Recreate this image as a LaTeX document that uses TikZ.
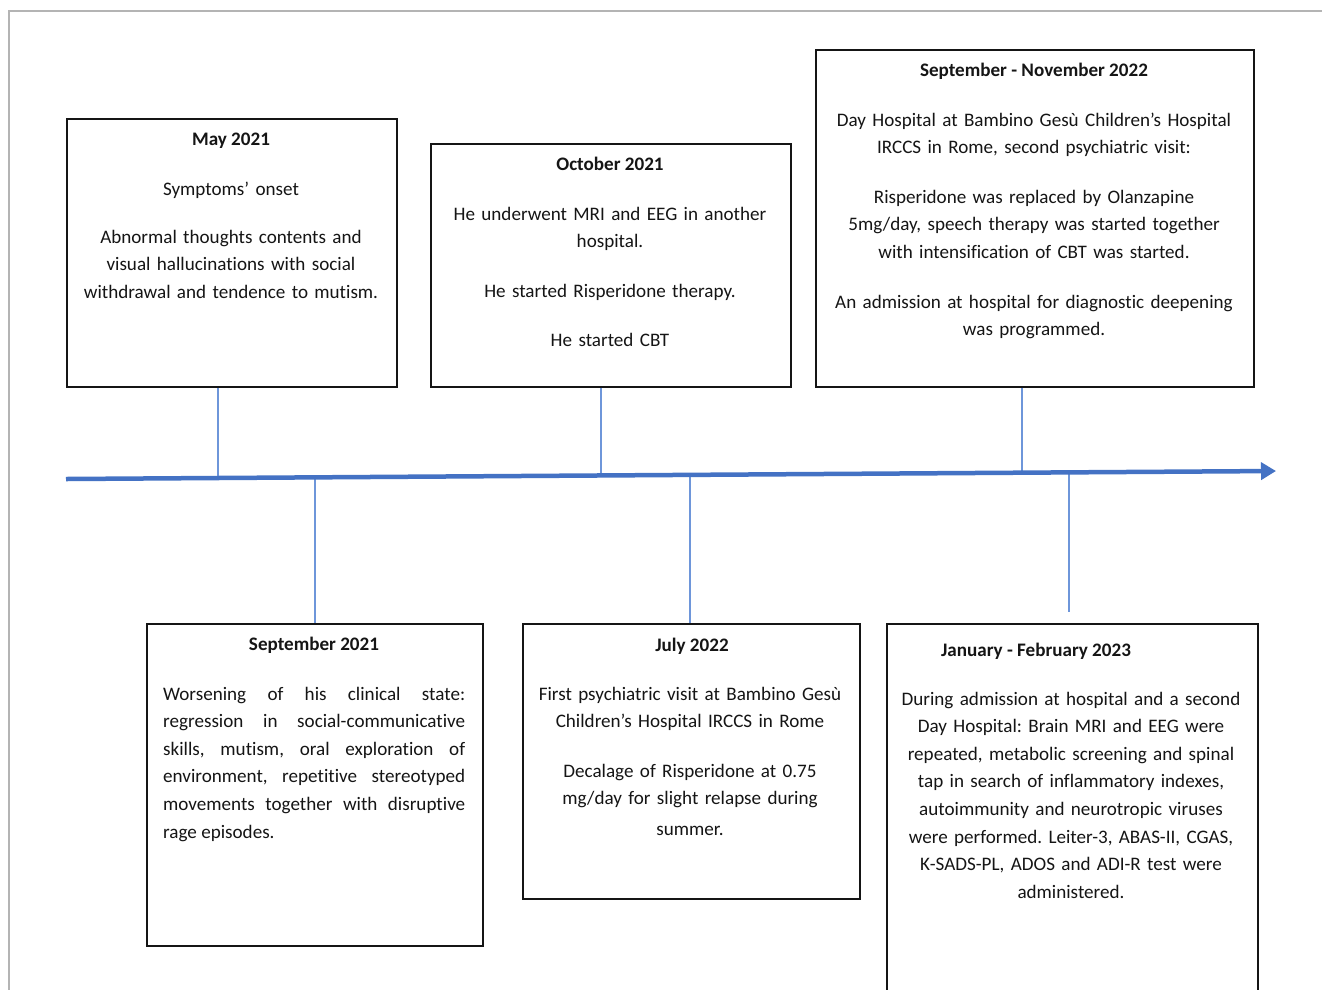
\documentclass[tikz,border=0pt]{standalone}
\usepackage{fontspec}
\setmainfont{Carlito}[Ligatures=NoCommon]
\usetikzlibrary{arrows.meta}
\definecolor{axisblue}{HTML}{4472C4}
\definecolor{tickblue}{HTML}{6E96DA}
\definecolor{framegray}{HTML}{B4B4B4}
\definecolor{ink}{HTML}{151515}
\newcommand{\bodyfont}{\fontsize{19.1}{27.6}\selectfont\frenchspacing}
\begin{document}
\begin{tikzpicture}[x=1pt,y=-1pt,
  eventbox/.style={draw=ink,line width=1.8pt,inner sep=0pt,anchor=north west},
  boxtitle/.style={font=\bodyfont\bfseries,text=ink,anchor=base,inner sep=0pt},
  body/.style={font=\bodyfont,text=ink,text width=470pt,align=center,anchor=base,inner sep=0pt},
  axis/.style={draw=axisblue,line width=4.5pt,-{Triangle[length=15pt,width=17pt]}},
  tick/.style={draw=tickblue,line width=1.5pt},
  frameline/.style={draw=framegray,line width=1.5pt}]
\useasboundingbox (0,0) rectangle (1322,989);
\clip (0,0) rectangle (1322,989);
\fill[white] (0,0) rectangle (1322,989);
\draw[frameline] (9,995) -- (9,11) -- (1330,11);

% boxes
\node[eventbox,minimum width=330pt,minimum height=268pt] (may) at (66,118) {};
\node[eventbox,minimum width=360pt,minimum height=243pt] (oct) at (430,143) {};
\node[eventbox,minimum width=438pt,minimum height=337pt] (sepnov) at (815,49) {};
\node[eventbox,minimum width=336pt,minimum height=322pt] (sep) at (146,623) {};
\node[eventbox,minimum width=337pt,minimum height=275pt] (jul) at (522,623) {};
\node[eventbox,minimum width=371pt,minimum height=420pt] (jan) at (886,623) {};

% May 2021
\node[boxtitle] (mayT) at (231,145) {May 2021};
\node[body] (mayA) at (231,195) {Symptoms’ onset};
\node[body] (mayB) at (231,243) {Abnormal thoughts contents and\\visual hallucinations with social\\withdrawal and tendence to mutism.};

% October 2021
\node[boxtitle] (octT) at (610,170) {October 2021};
\node[body] (octA) at (610,220) {He underwent MRI and EEG in another\\hospital.};
\node[body] (octB) at (610,297) {He started Risperidone therapy.};
\node[body] (octC) at (610,346) {He started CBT};

% September - November 2022
\node[boxtitle] (snT) at (1034,76) {September - November 2022};
\node[body] (snA) at (1034,126) {Day Hospital at Bambino Gesù Children’s Hospital\\IRCCS in Rome, second psychiatric visit:};
\node[body] (snB) at (1034,203) {Risperidone was replaced by Olanzapine\\5mg/day, speech therapy was started together\\with intensification of CBT was started.};
\node[body] (snC) at (1034,308) {An admission at hospital for diagnostic deepening\\was programmed.};

% September 2021
\node[boxtitle] (sepT) at (314,650) {September 2021};
\node[font=\bodyfont,text=ink,text width=302pt,align=justify,anchor=base west,inner sep=0pt] (sepA) at (163,700)
 {\hyphenpenalty=10000\exhyphenpenalty=10000 Worsening of his clinical state:\linebreak regression in social-communicative\linebreak skills, mutism, oral exploration of\linebreak environment, repetitive stereotyped\linebreak movements together with disruptive\linebreak rage episodes.};

% July 2022
\node[boxtitle] (julT) at (692,651) {July 2022};
\node[body] (julA) at (690,700) {First psychiatric visit at Bambino Gesù\\Children’s Hospital IRCCS in Rome};
\node[body] (julB) at (690,777) {Decalage of Risperidone at 0.75\\mg/day for slight relapse during\\[3pt]summer.};

% January - February 2023
\node[boxtitle] (janT) at (1036,656) {January - February 2023};
\node[body] (janA) at (1071,705) {During admission at hospital and a second\\Day Hospital: Brain MRI and EEG were\\repeated, metabolic screening and spinal\\tap in search of inflammatory indexes,\\autoimmunity and neurotropic viruses\\were performed. Leiter-3, ABAS-II, CGAS,\\K-SADS-PL, ADOS and ADI-R test were\\administered.};

% timeline
\coordinate (axL) at (66,479);
\coordinate (axR) at (1276,471);
\coordinate (t1) at (218,478);
\coordinate (t2) at (601,475.5);
\coordinate (t3) at (1022,472.7);
\coordinate (t4) at (315,477.4);
\coordinate (t5) at (690,474.9);
\coordinate (t6) at (1069,472.4);
\coordinate (t6e) at (1069,612);

\draw[tick] (may.south -| t1) -- (t1);
\draw[tick] (oct.south -| t2) -- (t2);
\draw[tick] (sepnov.south -| t3) -- (t3);
\draw[tick] (t4) -- (sep.north -| t4);
\draw[tick] (t5) -- (jul.north -| t5);
\draw[tick] (t6) -- (t6e);
\draw[axis] (axL) -- (axR);
\end{tikzpicture}
\end{document}
